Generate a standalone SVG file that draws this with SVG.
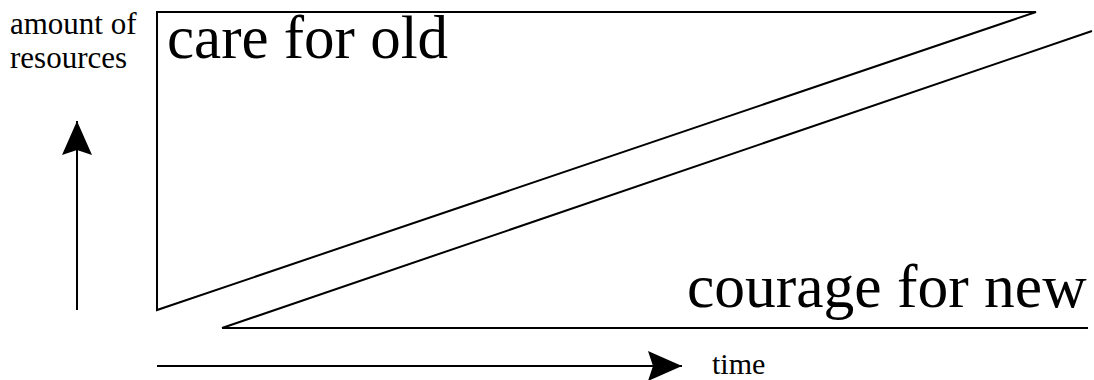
<svg xmlns="http://www.w3.org/2000/svg" width="1094" height="380" viewBox="0 0 1094 380">
<style>
.t{font-family:"Liberation Serif","Times New Roman",serif;fill:#000}
.ln{stroke:#000;stroke-width:2;fill:none}
</style>
<defs>
<marker id="ah" markerUnits="userSpaceOnUse" markerWidth="40" markerHeight="40" refX="34" refY="15" orient="auto">
<path d="M0,0 L34,15 L0,30 L5,15 Z" fill="#000"/>
</marker>
</defs>
<rect width="1094" height="380" fill="#fff"/>
<g id="axis-label">
<text class="t" x="10" y="34" font-size="31">amount of</text>
<text class="t" x="10" y="68" font-size="31">resources</text>
</g>
<g id="care">
<path class="ln" d="M157,310 L157,12 L1036,12 Z" stroke-linejoin="miter"/>
<text class="t" x="167" y="58" font-size="61">care for old</text>
</g>
<g id="courage">
<path class="ln" d="M222,328 L1092,31 M222,328 L1088,328"/>
<text class="t" x="687" y="307" font-size="61.5">courage for new</text>
</g>
<g id="time-label">
<text class="t" x="712" y="374" font-size="30">time</text>
</g>
<g id="connectors">
<line class="ln" x1="77" y1="310" x2="77" y2="121" marker-end="url(#ah)"/>
<line class="ln" x1="157" y1="366" x2="682" y2="366" marker-end="url(#ah)"/>
</g>
</svg>
